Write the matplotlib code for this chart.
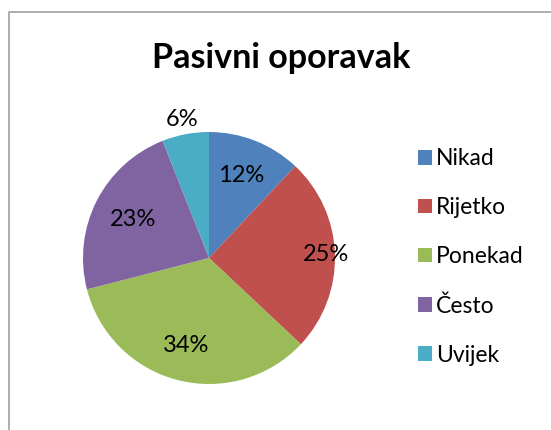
import matplotlib
matplotlib.use("Agg")
import matplotlib.pyplot as plt
import numpy as np
from matplotlib.patches import Patch

categories = ["Nikad", "Rijetko", "Ponekad", "Često", "Uvijek"]
shares = [12, 25, 34, 23, 6]
colors = ["#4F81BD", "#C0504D", "#9BBB59", "#8064A2", "#4BACC6"]
label_dist = [0.70, 0.93, 0.72, 0.68, 1.12]
title = "Pasivni oporavak"

plt.rcParams["font.family"] = ["Lato", "DejaVu Sans"]

W, H = 551, 430
fig = plt.figure(figsize=(W / 100, H / 100), dpi=100)
ax = fig.add_axes([0, 0, 1, 1])

cx, cy, r = 209, H - 258, 126
wedges, _ = ax.pie(shares, colors=colors, startangle=90, counterclock=False,
                   center=(cx, cy), radius=r, wedgeprops=dict(linewidth=0))

for w, val, d in zip(wedges, shares, label_dist):
    mid = np.deg2rad((w.theta1 + w.theta2) / 2)
    ax.text(cx + d * r * np.cos(mid), cy + d * r * np.sin(mid), f"{val}%",
            ha="center", va="center", fontsize=17, color="black")

ax.set_xlim(0, W)
ax.set_ylim(0, H)
ax.set_aspect("equal")
ax.axis("off")

# chart frame (only top/left edges inside the crop)
ax.plot([9, 9, W + 5], [-5, H - 12, H - 12], color="#A0A0A0", lw=1.2, clip_on=False)

fig.text(281 / W, 1 - 58 / H, title, ha="center", va="center",
         fontsize=24.5, fontweight="bold")

handles = [Patch(facecolor=c, edgecolor="none") for c in colors]
fig.legend(handles, categories, loc="center left", bbox_to_anchor=(418 / W, 1 - 257 / H),
           frameon=False, fontsize=16.5, handlelength=0.6, handleheight=0.6,
           handletextpad=0.2, labelspacing=1.22, borderpad=0, borderaxespad=0)

fig.savefig("out.png", dpi=100)
